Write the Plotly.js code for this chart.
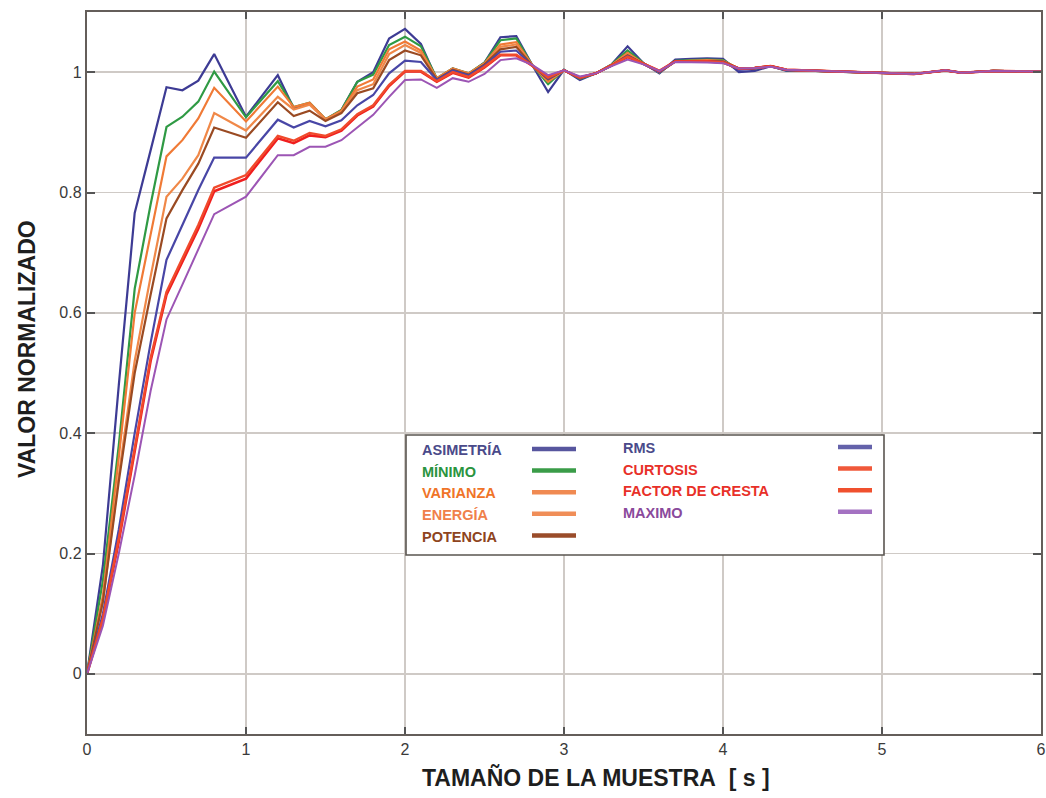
<!DOCTYPE html>
<html>
<head>
<meta charset="utf-8">
<script src="https://cdn.plot.ly/plotly-3.0.1.min.js"></script>
<style>
  html, body { margin: 0; padding: 0; background: #ffffff; }
  #chart { width: 1046px; height: 798px; }
</style>
</head>
<body>
<div id="chart"></div>
<script>
// ---------- DATA ----------
const tamano = [
  0, 0.1, 0.2, 0.3, 0.4, 0.5, 0.6, 0.7, 0.8,
  1.0,
  1.2, 1.3, 1.4, 1.5, 1.6, 1.7, 1.8, 1.9, 2.0, 2.1,
  2.2, 2.3, 2.4, 2.5, 2.6, 2.7, 2.8, 2.9, 3.0, 3.1,
  3.2, 3.3, 3.4, 3.5, 3.6, 3.7, 3.8, 3.9, 4.0, 4.1,
  4.2, 4.3, 4.4, 4.5,
  4.7, 5.0, 5.2, 5.4, 5.5, 5.7, 6.0
];

const asimetria = [
  0, 0.18, 0.48, 0.766, 0.87, 0.975, 0.970, 0.986, 1.030,
  0.926,
  0.995, 0.940, 0.948, 0.921, 0.937, 0.984, 1.000, 1.056, 1.072, 1.047,
  0.988, 1.006, 0.997, 1.016, 1.058, 1.060, 1.012, 0.967, 1.004, 0.987,
  0.998, 1.013, 1.043, 1.015, 0.998, 1.021, 1.022, 1.023, 1.022, 1.000,
  1.002, 1.010, 1.002, 1.003,
  1.001, 0.999, 0.997, 1.003, 0.999, 1.002, 1.001
];

const minimo = [
  0, 0.155, 0.38, 0.64, 0.78, 0.909, 0.926, 0.951, 1.001,
  0.925,
  0.985, 0.942, 0.949, 0.922, 0.937, 0.984, 0.996, 1.045, 1.059, 1.043,
  0.990, 1.006, 0.998, 1.016, 1.053, 1.056, 1.012, 0.980, 1.004, 0.989,
  0.998, 1.013, 1.036, 1.015, 0.999, 1.019, 1.020, 1.021, 1.020, 1.005,
  1.006, 1.010, 1.003, 1.003,
  1.001, 0.999, 0.997, 1.003, 0.999, 1.002, 1.001
];

const varianza = [
  0, 0.13, 0.36, 0.60, 0.73, 0.860, 0.887, 0.923, 0.974,
  0.918,
  0.976, 0.942, 0.949, 0.922, 0.936, 0.976, 0.988, 1.038, 1.051, 1.036,
  0.990, 1.006, 0.998, 1.015, 1.046, 1.050, 1.012, 0.984, 1.003, 0.990,
  0.998, 1.012, 1.032, 1.014, 1.000, 1.018, 1.019, 1.020, 1.019, 1.006,
  1.007, 1.010, 1.004, 1.003,
  1.001, 0.999, 0.997, 1.003, 0.999, 1.002, 1.001
];

const energia = [
  0, 0.12, 0.33, 0.52, 0.66, 0.793, 0.823, 0.862, 0.932,
  0.903,
  0.959, 0.938, 0.946, 0.921, 0.934, 0.970, 0.980, 1.030, 1.045, 1.032,
  0.989, 1.005, 0.997, 1.014, 1.042, 1.046, 1.011, 0.986, 1.003, 0.991,
  0.998, 1.012, 1.030, 1.014, 1.000, 1.018, 1.019, 1.019, 1.018, 1.006,
  1.007, 1.010, 1.004, 1.003,
  1.001, 0.999, 0.997, 1.003, 0.999, 1.002, 1.001
];

const potencia = [
  0, 0.12, 0.32, 0.50, 0.63, 0.757, 0.804, 0.848, 0.908,
  0.891,
  0.950, 0.927, 0.936, 0.919, 0.932, 0.965, 0.973, 1.020, 1.036, 1.028,
  0.988, 1.004, 0.996, 1.013, 1.038, 1.042, 1.011, 0.988, 1.003, 0.991,
  0.998, 1.011, 1.028, 1.014, 1.000, 1.018, 1.018, 1.018, 1.018, 1.006,
  1.007, 1.010, 1.004, 1.003,
  1.001, 0.999, 0.997, 1.003, 0.999, 1.002, 1.001
];

const rms = [
  0, 0.10, 0.24, 0.40, 0.55, 0.688, 0.746, 0.804, 0.858,
  0.858,
  0.921, 0.908, 0.919, 0.910, 0.920, 0.945, 0.962, 0.998, 1.019, 1.017,
  0.987, 1.003, 0.995, 1.011, 1.034, 1.036, 1.011, 0.989, 1.003, 0.990,
  0.998, 1.011, 1.027, 1.014, 1.000, 1.018, 1.018, 1.018, 1.017, 1.004,
  1.006, 1.010, 1.003, 1.003,
  1.001, 0.999, 0.997, 1.003, 0.999, 1.002, 1.001
];

const curtosis = [
  0, 0.09, 0.22, 0.37, 0.52, 0.630, 0.685, 0.740, 0.802,
  0.823,
  0.890, 0.882, 0.895, 0.892, 0.903, 0.928, 0.943, 0.977, 1.001, 1.001,
  0.984, 0.999, 0.991, 1.008, 1.028, 1.028, 1.011, 0.992, 1.003, 0.991,
  0.998, 1.011, 1.025, 1.014, 1.002, 1.018, 1.018, 1.018, 1.016, 1.006,
  1.007, 1.010, 1.004, 1.003,
  1.001, 0.999, 0.997, 1.003, 0.999, 1.002, 1.001
];

const factorCresta = [
  0, 0.092, 0.225, 0.375, 0.525, 0.635, 0.690, 0.746, 0.808,
  0.829,
  0.894, 0.886, 0.899, 0.894, 0.905, 0.930, 0.945, 0.979, 1.002, 1.002,
  0.985, 1.000, 0.992, 1.009, 1.029, 1.029, 1.011, 0.991, 1.003, 0.991,
  0.998, 1.011, 1.026, 1.014, 1.002, 1.018, 1.018, 1.018, 1.016, 1.006,
  1.007, 1.010, 1.004, 1.003,
  1.001, 0.999, 0.997, 1.003, 0.999, 1.002, 1.001
];

const maximo = [
  0, 0.08, 0.20, 0.33, 0.47, 0.589, 0.647, 0.705, 0.764,
  0.793,
  0.862, 0.862, 0.876, 0.876, 0.887, 0.908, 0.929, 0.959, 0.987, 0.988,
  0.974, 0.990, 0.984, 0.997, 1.020, 1.023, 1.012, 0.995, 1.003, 0.993,
  0.998, 1.010, 1.021, 1.013, 1.002, 1.017, 1.017, 1.016, 1.015, 1.006,
  1.007, 1.009, 1.004, 1.003,
  1.001, 0.999, 0.997, 1.003, 0.999, 1.002, 1.001
];

const seriesNames = ["ASIMETRÍA", "MÍNIMO", "VARIANZA", "ENERGÍA", "POTENCIA",
                     "RMS", "CURTOSIS", "FACTOR DE CRESTA", "MAXIMO"];
const seriesValues = [asimetria, minimo, varianza, energia, potencia,
                      rms, curtosis, factorCresta, maximo];

const xTickLabels = ["0", "1", "2", "3", "4", "5", "6"];
const xTickValues = [0, 1, 2, 3, 4, 5, 6];

// ---------- STYLES ----------
const lineColors   = ["#3d3b94", "#2f9a44", "#f07a36", "#f08848", "#9a4a22",
                      "#4846a6", "#f01e1e", "#f04a2c", "#9c55b4"];
const lineWidths   = [2.2, 2.2, 2.2, 2.2, 2.2, 2.2, 2.6, 2.4, 2.0];
const swatchColors = ["#57569e", "#3a9c48", "#f08a52", "#f08e58", "#9a4c2a",
                      "#6462aa", "#f0583a", "#f0502e", "#a472c2"];
const textColors   = ["#4a4a8a", "#2a9440", "#f07428", "#f0804a", "#8e4420",
                      "#4a4a8a", "#e83028", "#e83028", "#8a4a9c"];

const W = 1046, H = 798;
const M = { l: 87, r: 5, t: 12, b: 64 };
const plotW = W - M.l - M.r, plotH = H - M.t - M.b;
const px2x = p => (p - M.l) / plotW;
const px2y = p => (H - M.b - p) / plotH;

const FONT = "Liberation Sans, Arial, Helvetica, sans-serif";

const traces = seriesNames.map((name, i) => ({
  type: "scatter",
  mode: "lines",
  name: name,
  x: tamano,
  y: seriesValues[i],
  line: { color: lineColors[i], width: lineWidths[i] },
  showlegend: false,
  hoverinfo: "x+y+name"
}));

// ---------- CUSTOM LEGEND (text left, line right) ----------
const shapes = [];
const annotations = [];

shapes.push({
  type: "rect", xref: "paper", yref: "paper", layer: "above",
  x0: px2x(406), x1: px2x(884), y0: px2y(555), y1: px2y(435),
  line: { color: "#5a5550", width: 1.6 }, fillcolor: "#ffffff"
});

const leftRows = 5;
seriesNames.forEach((name, i) => {
  const col = i < leftRows ? 0 : 1;
  const row = col === 0 ? i : i - leftRows;
  const ty = (col === 0 ? 450 : 448) + row * 21.7;
  const sy = (col === 0 ? 449 : 447) + row * 21.6;
  const tx = col === 0 ? 420 : 621;
  const sx0 = col === 0 ? 532 : 838;
  const sx1 = col === 0 ? 576 : 872;
  annotations.push({
    xref: "paper", yref: "paper", x: px2x(tx), y: px2y(ty),
    xanchor: "left", yanchor: "middle", showarrow: false,
    text: "<b>" + name + "</b>",
    font: { family: FONT, size: 14.5, color: textColors[i] }
  });
  shapes.push({
    type: "line", xref: "paper", yref: "paper", layer: "above",
    x0: px2x(sx0), x1: px2x(sx1), y0: px2y(sy), y1: px2y(sy),
    line: { color: swatchColors[i], width: 4.5 }
  });
});

annotations.push({
  xref: "paper", yref: "paper", x: px2x(596), y: px2y(777),
  xanchor: "center", yanchor: "middle", showarrow: false,
  text: "<b>TAMAÑO DE LA MUESTRA\u00a0\u00a0[ s ]</b>",
  font: { family: FONT, size: 23, color: "#1e1e1e" }
});
annotations.push({
  xref: "paper", yref: "paper", x: px2x(27), y: px2y(349),
  xanchor: "center", yanchor: "middle", showarrow: false, textangle: -90,
  text: "<b>VALOR NORMALIZADO</b>",
  font: { family: FONT, size: 23, color: "#1e1e1e" }
});

const layout = {
  width: W, height: H,
  margin: M,
  paper_bgcolor: "#ffffff",
  plot_bgcolor: "#ffffff",
  font: { family: FONT, size: 15, color: "#3a3a3a" },
  showlegend: false,
  xaxis: {
    range: [0, 6],
    tickvals: xTickValues,
    ticktext: xTickLabels,
    ticklabeloverflow: "allow",
    showgrid: true, gridcolor: "#cfcac6", gridwidth: 1.4,
    zeroline: false,
    showline: true, linecolor: "#645e5a", linewidth: 2.2, mirror: "ticks",
    ticks: "inside", ticklen: 7, tickwidth: 2, tickcolor: "#555",
    tickfont: { family: FONT, size: 16, color: "#3a3a3a" },
    fixedrange: true
  },
  yaxis: {
    range: [-0.1, 1.1],
    tick0: 0, dtick: 0.2,
    showgrid: true, gridcolor: "#cfcac6", gridwidth: 1.4,
    zeroline: false,
    showline: true, linecolor: "#645e5a", linewidth: 2.2, mirror: "ticks",
    ticks: "inside", ticklen: 8, tickwidth: 2, tickcolor: "#555",
    tickfont: { family: FONT, size: 16, color: "#3a3a3a" },
    fixedrange: true
  },
  shapes: shapes,
  annotations: annotations
};

Plotly.newPlot("chart", traces, layout, { displayModeBar: false, staticPlot: true });
</script>
</body>
</html>
